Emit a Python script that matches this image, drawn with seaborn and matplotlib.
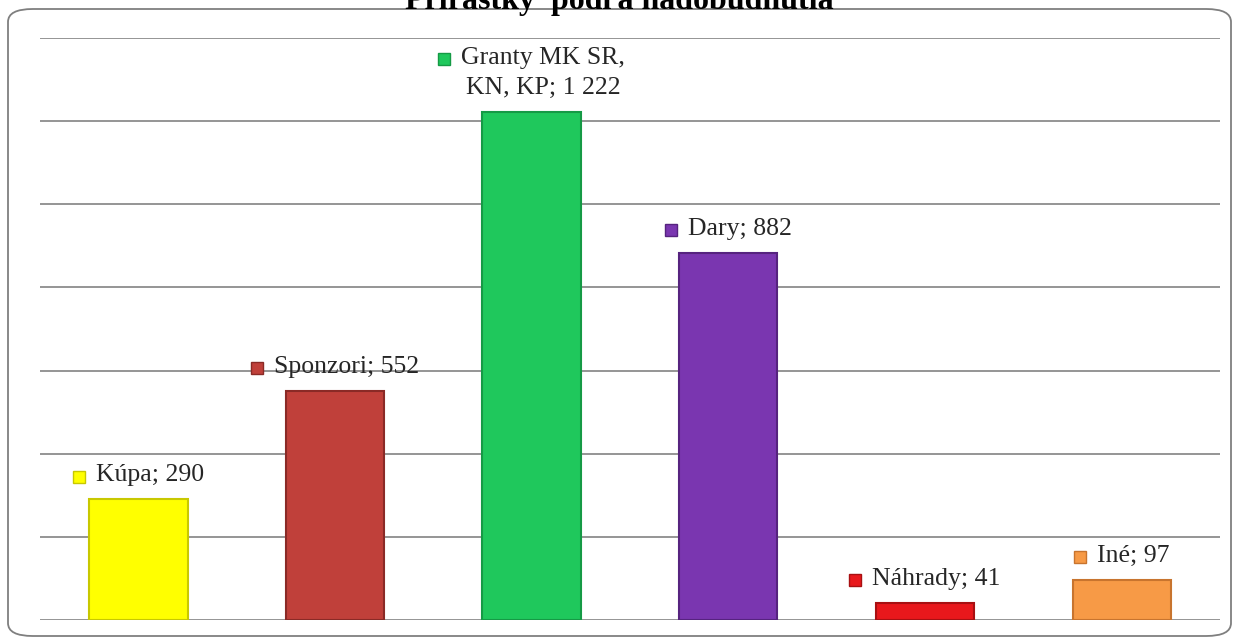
import matplotlib
matplotlib.use("Agg")
import matplotlib.pyplot as plt
import pandas as pd
import seaborn as sns
import numpy as np
from matplotlib.patches import FancyBboxPatch, Rectangle
from matplotlib.transforms import IdentityTransform

categories = ['Kúpa', 'Sponzori', 'Granty MK SR,\nKN, KP', 'Dary', 'Náhrady', 'Iné']
values = [290, 552, 1222, 882, 41, 97]
value_labels = ['290', '552', '1 222', '882', '41', '97']
colors = ['#FFFF00', '#C0403A', '#1FC85C', '#7A36B0', '#E8181C', '#F79A46']
edge_colors = ['#C8C800', '#8A2A26', '#159A45', '#56237F', '#A81012', '#C8742E']
title = 'Prírastky  podľa nadobudnutia'

sns.set_theme(style='white')
plt.rcParams['font.family'] = ['Liberation Serif', 'DejaVu Serif']

df = pd.DataFrame({'category': categories, 'value': values})

fig = plt.figure(figsize=(12.39, 6.44), dpi=100)
ax = fig.add_axes([40 / 1239, 24 / 644, 1180 / 1239, 582 / 644])

sns.barplot(data=df, x='category', y='value', hue='category', palette=colors,
            width=0.5, legend=False, ax=ax, zorder=3, saturation=1)
for bar, ec in zip(ax.patches, edge_colors):
    bar.set_edgecolor(ec)
    bar.set_linewidth(1.5)

ax.set_ylim(0, 1400)
ax.set_xlim(-0.5, len(categories) - 0.5)
ax.set_yticks(np.arange(0, 1401, 200))
ax.yaxis.grid(True, color='#8c8c8c', linewidth=1.3)
ax.set_axisbelow(True)
ax.set_xticks([])
ax.set_yticklabels([])
ax.tick_params(left=False, bottom=False)
ax.set_xlabel('')
ax.set_ylabel('')
for s in ax.spines.values():
    s.set_visible(False)

# rounded chart frame
frame = FancyBboxPatch((8 / 1239, 8 / 644), 1223 / 1239, 627 / 644,
                       boxstyle='round,pad=0,rounding_size=0.02',
                       transform=fig.transFigure, fill=False,
                       edgecolor='#7f7f7f', linewidth=1.3, zorder=0)
fig.add_artist(frame)

fig.text(0.5, 1 - 9 / 644, title, ha='center', va='baseline',
         fontsize=23, fontweight='bold', color='black')

# data labels with small colour square in front
msize, gap = 12, 11
texts = []
for i, (cat, val, lab) in enumerate(zip(categories, values, value_labels)):
    t = ax.annotate(f'{cat}; {lab}', xy=(i, val),
                    xytext=((msize + gap) / 2 * 0.72, 18 * 0.72),
                    textcoords='offset points', ha='center', va='baseline',
                    fontsize=18.5, multialignment='center', linespacing=1.45,
                    zorder=5)
    texts.append(t)

fig.canvas.draw()
renderer = fig.canvas.get_renderer()
for t, c, ec in zip(texts, colors, edge_colors):
    bb = t.get_window_extent(renderer)
    lines = t.get_text().split('\n')
    first = ax.text(0, 0, lines[0], fontsize=18.5)
    fb = first.get_window_extent(renderer)
    first.remove()
    x_left = (bb.x0 + bb.x1) / 2 - fb.width / 2
    y_mid = bb.y1 - fb.height * 0.55
    fig.add_artist(Rectangle((x_left - gap - msize, y_mid - msize / 2), msize, msize,
                             transform=IdentityTransform(), facecolor=c,
                             edgecolor=ec, linewidth=1, zorder=6))

fig.savefig('out.png', dpi=100)
